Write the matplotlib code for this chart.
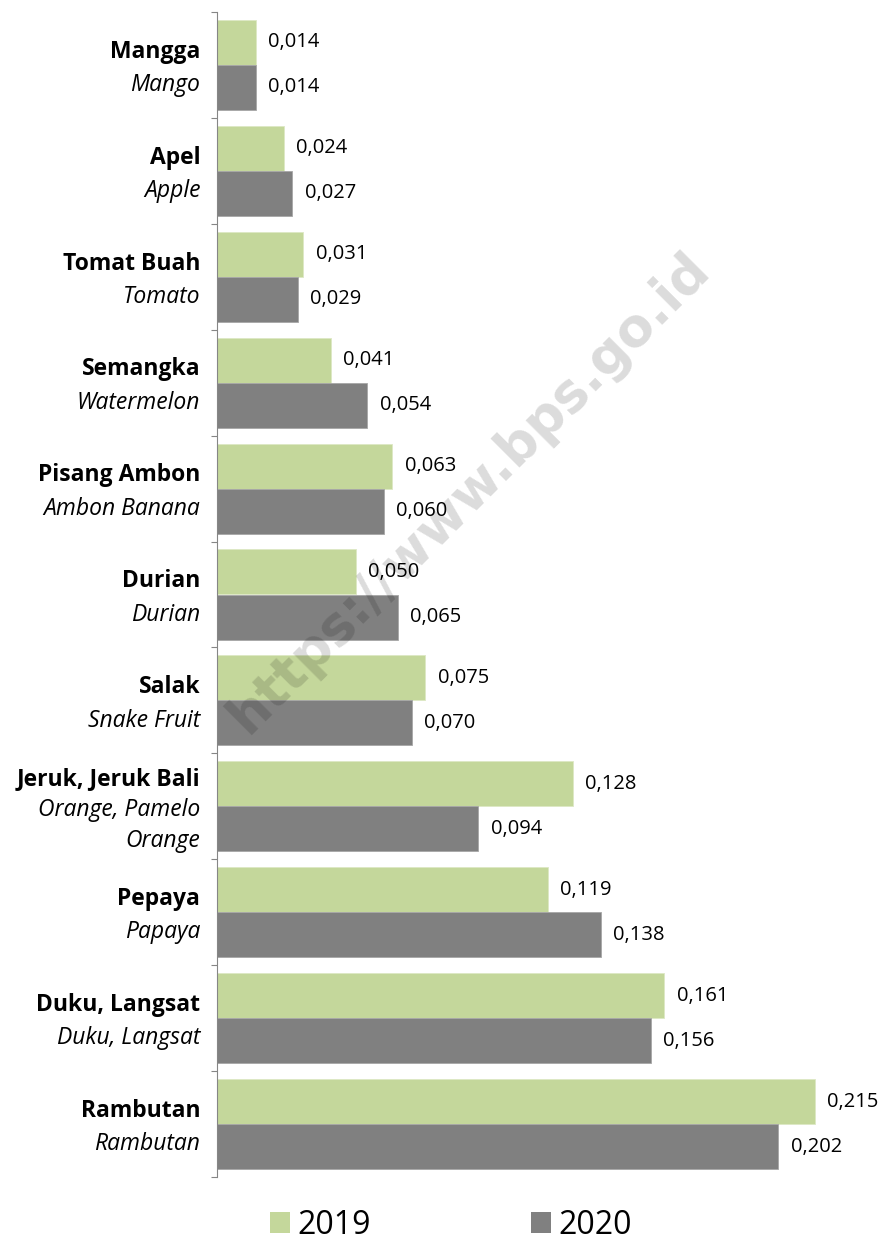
import numpy as np
import matplotlib.pyplot as plt
from matplotlib.patches import Patch

plt.rcParams['font.family'] = ['Open Sans', 'DejaVu Sans']

names_id = ['Mangga', 'Apel', 'Tomat Buah', 'Semangka', 'Pisang Ambon', 'Durian',
            'Salak', 'Jeruk, Jeruk Bali', 'Pepaya', 'Duku, Langsat', 'Rambutan']
names_en = ['Mango', 'Apple', 'Tomato', 'Watermelon', 'Ambon Banana', 'Durian',
            'Snake Fruit', 'Orange, Pamelo\nOrange', 'Papaya', 'Duku, Langsat', 'Rambutan']
val_2019 = [0.014, 0.024, 0.031, 0.041, 0.063, 0.050, 0.075, 0.128, 0.119, 0.161, 0.215]
val_2020 = [0.014, 0.027, 0.029, 0.054, 0.060, 0.065, 0.070, 0.094, 0.138, 0.156, 0.202]
years = ['2019', '2020']

green = '#C4D79B'
grey = '#808080'

fig = plt.figure(figsize=(8.86, 12.41), dpi=100)
ax = fig.add_axes([217 / 886, 1 - 1177 / 1241, 667 / 886, 1165 / 1241])

y = np.arange(len(names_id))
h = 0.425
ax.barh(y - h / 2, val_2019, height=h, color=green, edgecolor='#dde8c4', linewidth=0.6)
ax.barh(y + h / 2, val_2020, height=h, color=grey, edgecolor='#a6a6a6', linewidth=0.6)

ax.set_xlim(0, 0.24)
ax.set_ylim(len(names_id) - 0.5, -0.5)

# value labels
for i in range(len(y)):
    for v, yy in ((val_2019[i], y[i] - h / 2), (val_2020[i], y[i] + h / 2)):
        ax.annotate(f'{v:.3f}'.replace('.', ','), xy=(v, yy), xytext=(9, 0),
                    textcoords='offset points', ha='left', va='center', fontsize=14.5)

# category labels: bold Indonesian + italic English
for i in range(len(y)):
    lines = [(names_id[i], 'bold', 'normal')] + [(s, 'normal', 'italic') for s in names_en[i].split('\n')]
    n = len(lines)
    line_pt = 24 if n == 2 else 22.5
    for k, (txt, wt, st) in enumerate(lines):
        off = ((n - 1) / 2 - k) * line_pt - 2.5
        ax.annotate(txt, xy=(0, y[i]), xycoords=('axes fraction', 'data'),
                    xytext=(-12, off), textcoords='offset points',
                    ha='right', va='center', fontsize=16.5, fontweight=wt, fontstyle=st)

for s in ['top', 'right', 'bottom']:
    ax.spines[s].set_visible(False)
ax.spines['left'].set_color('#868686')
ax.set_xticks([])
ax.set_yticks(np.arange(-0.5, len(names_id), 1.0))
ax.set_yticklabels([])
ax.tick_params(axis='y', length=4, color='#868686', direction='out')

# watermark
fig.text(0.530, 0.603, 'https://www.bps.go.id', family='DejaVu Sans', fontweight='bold',
         fontsize=38, color='black', alpha=0.14, rotation=45,
         ha='center', va='center', rotation_mode='anchor')

handles = [Patch(facecolor=green), Patch(facecolor=grey)]
fig.legend(handles, years, loc='center', bbox_to_anchor=(0.509, 1 - 1225 / 1241), ncol=2,
           frameon=False, fontsize=23, handlelength=0.62, handleheight=0.62,
           handletextpad=0.25, columnspacing=5.0)

fig.savefig('out.png', dpi=100)
